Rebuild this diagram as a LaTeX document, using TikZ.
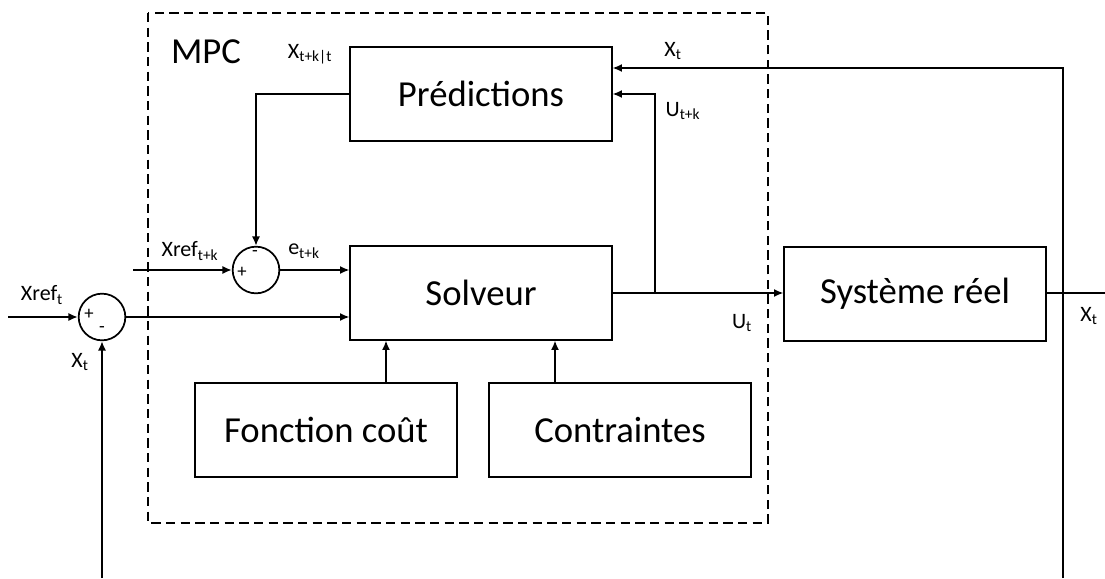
\documentclass[tikz,border=0pt]{standalone}
\usepackage{fontspec}
\setmainfont{Carlito}
\usetikzlibrary{arrows.meta}

\tikzset{
    bloc/.style={draw, line width=1.3pt, inner sep=0pt, minimum width=196pt, minimum height=70pt, font=\fontsize{27.5}{31}\selectfont},
    somme/.style={draw, circle, line width=1.3pt, inner sep=0pt, minimum size=35pt},
    signe/.style={inner sep=0pt, font=\fontsize{14}{16}\selectfont},
    etiq/.style={inner sep=0pt, font=\fontsize{16.5}{19}\selectfont},
    fleche/.style={line width=1.3pt, -{Latex[length=7pt,width=6pt]}},
    trait/.style={line width=1.3pt}
}

\begin{document}
\begin{tikzpicture}[x=0.75pt, y=-0.75pt]
    \useasboundingbox (0,0) rectangle (1105,578);
% MPC frame
    \draw[line width=1.3pt, dash pattern=on 7pt off 4pt] (148,13) rectangle (768,523);
    \node[inner sep=0pt, font=\fontsize{27.5}{31}\selectfont] (mpc) at (206,52) {MPC};
% Blocks
    \node[bloc] (pred) at (481,94) {Prédictions};
    \node[bloc] (solv) at (481,293) {Solveur};
    \node[bloc] (cout) at (326,430) {Fonction coût};
    \node[bloc] (contr) at (620,430) {Contraintes};
    \node[bloc] (sys) at (915,294) {Système réel};
% Summing points
    \node[somme] (s1) at (102,317) {};
    \node[signe] (s1p) at (89,314) {+};
    \node[signe] (s1m) at (102,330) {-};
    \node[somme] (s2) at (256,270) {};
    \node[signe] (s2m) at (255,254) {-};
    \node[signe] (s2p) at (242,272) {+};
% Free ends and corners
    \coordinate (in1) at (8,317);
    \coordinate (in2) at (133,270);
    \coordinate (br) at (655,293);
    \coordinate (out) at (1105,293);
    \coordinate (fbtop) at (1063,68);
    \coordinate (fbbot) at (1063,578);
    \coordinate (fbl) at (102,578);
    \coordinate (c1) at (386,0);
    \coordinate (c2) at (555,0);
% Connectors
    \draw[fleche] (in1) -- (s1.west);
    \draw[fleche] (s1.east) -- (solv.west |- s1.east);
    \draw[fleche] (in2) -- (s2.west);
    \draw[fleche] (s2.east) -- (solv.west |- s2.east);
    \draw[fleche] (pred.west) -| (s2.north);
    \draw[fleche] (solv.east) -- (sys.west |- solv.east);
    \draw[fleche] (br) |- (pred.east);
    \draw[trait] (sys.east |- out) -- (out);
    \draw[fleche] (fbbot) -- (fbtop) -- (pred.east |- fbtop);
    \draw[fleche] (fbl) -- (s1.south);
    \draw[fleche] (cout.north -| c1) -- (solv.south -| c1);
    \draw[fleche] (contr.north -| c2) -- (solv.south -| c2);
% Labels
    \node[etiq] (lxref) at (42,295) {Xref\textsubscript{t}};
    \node[etiq] (lx1) at (80,362) {X\textsubscript{t}};
    \node[etiq] (lxrefk) at (190,251) {Xref\textsubscript{t+k}};
    \node[etiq] (lek) at (304,251) {e\textsubscript{t+k}};
    \node[etiq] (lxk) at (310,54) {X\textsubscript{t+k|t}};
    \node[etiq] (lx2) at (673,51) {X\textsubscript{t}};
    \node[etiq] (luk) at (683,111) {U\textsubscript{t+k}};
    \node[etiq] (lu) at (742,323) {U\textsubscript{t}};
    \node[etiq] (lx3) at (1089,316) {X\textsubscript{t}};
\end{tikzpicture}
\end{document}
